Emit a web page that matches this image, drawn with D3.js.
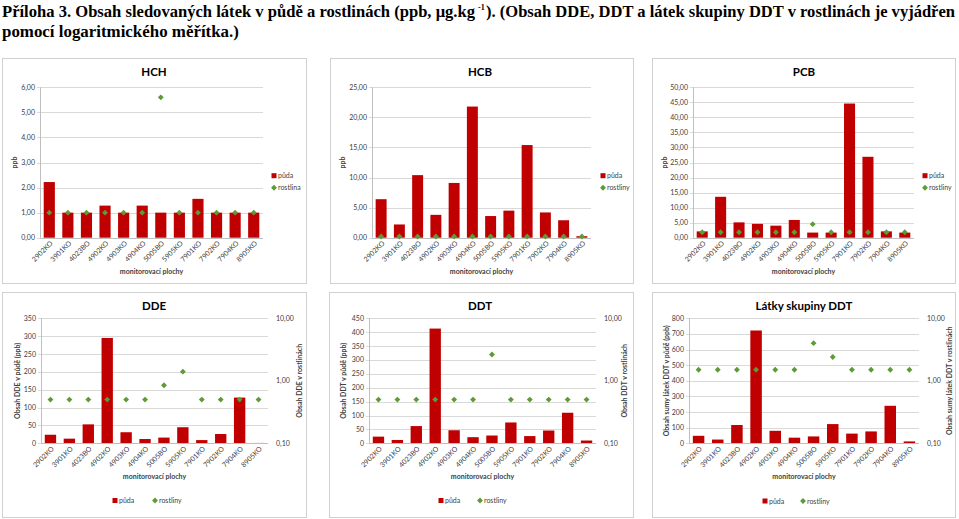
<!DOCTYPE html>
<html><head><meta charset="utf-8">
<script src="https://cdn.jsdelivr.net/npm/d3@7/dist/d3.min.js"></script>
<style>
body{margin:0;background:#fff;}
svg text{font-family:Lato,"Open Sans",sans-serif;fill:#404040;}
</style></head>
<body><svg id="c" width="959" height="519"></svg>
<script>
const sites = ["2902KO","3901KO","4023BO","4902KO","4903KO","4904KO","5005BO","5905KO","7901KO","7902KO","7904KO","8905KO"];

const hchSoil  = [2.22,1.0,1.0,1.28,1.0,1.28,1.0,1.0,1.55,1.0,1.0,1.0];
const hchPlant = [1.0,1.0,1.0,1.0,1.0,1.0,5.6,1.0,1.0,1.0,1.0,1.0];
const hcbSoil  = [6.4,2.2,10.4,3.8,9.1,21.8,3.6,4.5,15.4,4.2,2.9,0.25];
const hcbPlant = [0.2,0.2,0.2,0.2,0.2,0.2,0.2,0.2,0.2,0.2,0.2,0.2];
const pcbSoil  = [2.1,13.6,5.1,4.6,4.0,5.9,1.7,1.7,44.6,26.9,2.1,1.7];
const pcbPlant = [1.8,1.8,1.8,1.8,1.8,1.8,4.5,1.8,1.8,1.8,1.8,1.8];
const ddeSoil  = [24,13,53,295,31,12,16,45,9,26,128,1];
const ddePlant = [0.5,0.5,0.5,0.5,0.5,0.5,0.85,1.4,0.5,0.5,0.5,0.5];
const ddtSoil  = [24,12,62,413,47,22,28,75,26,46,110,10];
const ddtPlant = [0.5,0.5,0.5,0.5,0.5,0.5,2.63,0.5,0.5,0.5,0.5,0.5];
const sumSoil  = [48,24,117,722,80,36,44,123,62,76,240,12];
const sumPlant = [1.5,1.5,1.5,1.5,1.5,1.5,4.0,2.4,1.5,1.5,1.5,1.5];

const topTicks = {HCH:[0,1,2,3,4,5,6], HCB:[0,5,10,15,20,25], PCB:[0,5,10,15,20,25,30,35,40,45,50]};
const logTicks = [0.1,1,10];

const RED = "#c00000", GREEN = "#5e9a36", GRID = "#d9d9d9";
const svg = d3.select("#c");

// Title
const serif = "'Liberation Serif','Times New Roman',serif";
function ttext(x,y,size,txt,len){
  const t = svg.append("text").attr("x",x).attr("y",y).style("font-family",serif)
    .style("font-weight","bold").style("font-size",size+"px").style("fill","#000").text(txt);
  if(len) t.attr("textLength",len).attr("lengthAdjust","spacingAndGlyphs");
  return t;
}
ttext(2,17,16.6,"Příloha 3. Obsah sledovaných látek v půdě a rostlinách (ppb, μg.kg",473);
ttext(478,10,8,"-1");
ttext(486,17,16.4,"). (Obsah DDE, DDT a látek skupiny DDT v rostlinách je vyjádřen",469);
ttext(2,37,16.9,"pomocí logaritmického měřítka.)");

const fmt2 = v => d3.format(".2f")(v).replace(".",",");
const fmt0 = v => String(v);

function diamond(g, x, y, s){
  g.append("path").attr("d", d3.symbol().type(d3.symbolDiamond2).size(s)()).attr("transform",`translate(${x},${y})`).attr("fill",GREEN);
}

function panel(o){
  const g = svg.append("g");
  g.append("rect").attr("x",o.box[0]+0.5).attr("y",o.box[1]+0.5).attr("width",o.box[2]-o.box[0]).attr("height",o.box[3]-o.box[1])
    .attr("fill","#fff").attr("stroke","#d0d0d0");
  const x = d3.scaleBand().domain(sites).range([o.l,o.r]).paddingInner(0.4).paddingOuter(0.2);
  const y = d3.scaleLinear().domain([0,o.max]).range([o.b,o.t]);
  // gridlines
  g.append("g").selectAll("line").data(o.ticks).join("line")
    .attr("x1",o.l-3).attr("x2",o.r).attr("y1",d=>Math.round(y(d))+0.5).attr("y2",d=>Math.round(y(d))+0.5)
    .attr("stroke",GRID).attr("stroke-width",1);
  g.append("line").attr("x1",o.l+0.5).attr("x2",o.l+0.5).attr("y1",o.t).attr("y2",o.b).attr("stroke","#bfbfbf");
  g.append("g").selectAll("text").data(o.ticks).join("text")
    .attr("x",o.l-5).attr("y",d=>y(d)+2.5).attr("text-anchor","end").style("font-size","7px").text(o.fmt);
  // bars
  g.append("g").selectAll("rect").data(o.soil).join("rect")
    .attr("x",(d,i)=>x(sites[i])).attr("width",x.bandwidth())
    .attr("y",d=>y(d)).attr("height",d=>o.b-y(d)).attr("fill",RED);
  g.append("line").attr("x1",o.l).attr("x2",o.r).attr("y1",Math.round(o.b)+0.5).attr("y2",Math.round(o.b)+0.5).attr("stroke","#bfbfbf");
  // plant
  let yp = y;
  if(o.log){
    yp = d3.scaleLog().domain([0.1,10]).range([o.b,o.t]);
    g.append("g").selectAll("text").data(logTicks).join("text")
      .attr("x",o.r+8).attr("y",d=>yp(d)+2.5).attr("text-anchor","start").style("font-size","7px").text(fmt2);
    g.append("text").attr("transform",`translate(${o.rt},${(o.t+o.b)/2}) rotate(-90)`).attr("text-anchor","middle")
      .style("font-size","7px").style("font-weight","bold").text(o.rtitle);
  }
  o.plant.forEach((v,i)=>diamond(g, x(sites[i])+x.bandwidth()/2, yp(v), 22));
  // x labels
  g.append("g").selectAll("text").data(sites).join("text")
    .attr("transform",d=>`translate(${x(d)+x.bandwidth()/2+4},${o.b+6}) rotate(-45)`)
    .attr("text-anchor","end").style("font-size","7px").text(d=>d);
  g.append("text").attr("x",(o.l+o.r)/2).attr("y",o.b+36).attr("text-anchor","middle")
    .style("font-size","7px").style("font-weight","bold").text("monitorovací plochy");
  g.append("text").attr("transform",`translate(${o.lt},${(o.t+o.b)/2}) rotate(-90)`).attr("text-anchor","middle")
    .style("font-size","7px").style("font-weight","bold").text(o.ltitle);
  g.append("text").attr("x",o.tx).attr("y",o.ty).attr("text-anchor","middle")
    .style("font-size","11.5px").style("font-weight","bold").style("fill","#000").text(o.title);
  // legend
  if(o.legV){
    const lx=o.legV;
    g.append("rect").attr("x",lx-2.5).attr("y",o.b-64.5).attr("width",5).attr("height",5).attr("fill",RED);
    g.append("text").attr("x",lx+4).attr("y",o.b-59.5).style("font-size","7px").text("půda");
    diamond(g,lx,o.b-50,22);
    g.append("text").attr("x",lx+4).attr("y",o.b-47.5).style("font-size","7px").text(o.plantName);
  } else {
    const ly=o.legY;
    g.append("rect").attr("x",o.legX[0]-2.5).attr("y",ly-2.5).attr("width",5).attr("height",5).attr("fill",RED);
    g.append("text").attr("x",o.legX[0]+4).attr("y",ly+2.5).style("font-size","7px").text("půda");
    diamond(g,o.legX[1],ly,22);
    g.append("text").attr("x",o.legX[1]+4).attr("y",ly+2.5).style("font-size","7px").text(o.plantName);
  }
}

const topRow = {t:87.3,b:237.7};
panel({box:[2,58,306,283],l:40,r:263,...topRow,max:6,ticks:topTicks.HCH,fmt:fmt2,soil:hchSoil,plant:hchPlant,
  title:"HCH",tx:154,ty:76,ltitle:"ppb",lt:17,legV:274,plantName:"rostlina"});
panel({box:[330,58,633,283],l:372,r:591,...topRow,max:25,ticks:topTicks.HCB,fmt:fmt2,soil:hcbSoil,plant:hcbPlant,
  title:"HCB",tx:480,ty:76,ltitle:"ppb",lt:345,legV:603,plantName:"rostliny"});
panel({box:[652,58,955,283],l:693,r:914,...topRow,max:50,ticks:topTicks.PCB,fmt:fmt2,soil:pcbSoil,plant:pcbPlant,
  title:"PCB",tx:804,ty:76,ltitle:"ppb",lt:667,legV:925,plantName:"rostliny"});

const botRow = {t:318.3,b:443.3};
panel({box:[2,292,306,517],l:41,r:268,...botRow,max:350,ticks:d3.range(0,351,50),fmt:fmt0,soil:ddeSoil,plant:ddePlant,
  log:true,rt:302,rtitle:"Obsah DDE v rostlinách",title:"DDE",tx:154,ty:310,ltitle:"Obsah DDE v půdě (ppb)",lt:20,
  legY:500.5,legX:[115,155],plantName:"rostliny"});
panel({box:[329,292,633,517],l:369,r:596,...botRow,max:450,ticks:d3.range(0,451,50),fmt:fmt0,soil:ddtSoil,plant:ddtPlant,
  log:true,rt:627,rtitle:"Obsah DDT v rostlinách",title:"DDT",tx:480,ty:310,ltitle:"Obsah DDT v půdě (ppb)",lt:346,
  legY:500.5,legX:[441,480],plantName:"rostliny"});
panel({box:[652,292,955,517],l:689,r:919,...botRow,max:800,ticks:d3.range(0,801,100),fmt:fmt0,soil:sumSoil,plant:sumPlant,
  log:true,rt:952,rtitle:"Obsah sumy látek DDT v rostlinách",title:"Látky skupiny DDT",tx:804,ty:310,ltitle:"Obsah  sumy látek DDT v půdě (ppb)",lt:669,
  legY:501,legX:[765,803],plantName:"rostliny"});
</script></body></html>
